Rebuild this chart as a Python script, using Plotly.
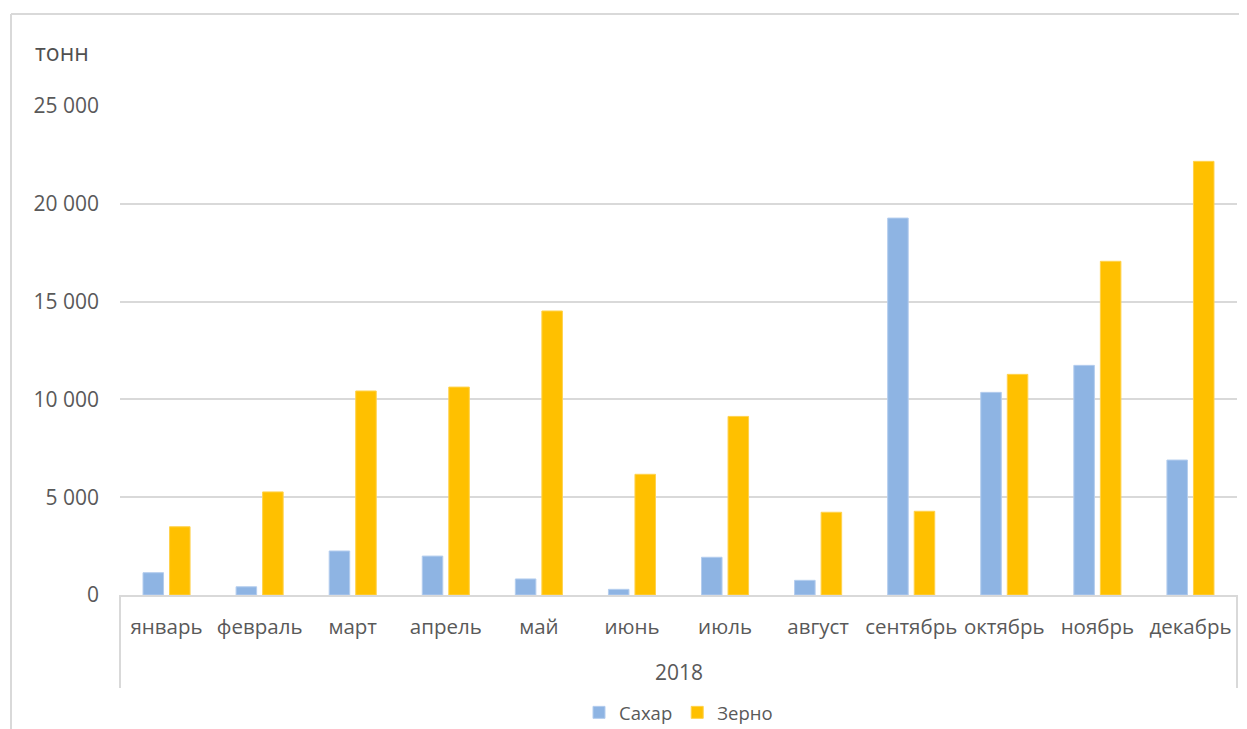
import plotly.graph_objects as go

months = ["январь", "февраль", "март", "апрель", "май", "июнь",
          "июль", "август", "сентябрь", "октябрь", "ноябрь", "декабрь"]
sugar = [1140, 420, 2250, 1990, 820, 290, 1930, 750, 19270, 10360, 11740, 6900]
grain = [3490, 5270, 10430, 10630, 14520, 6170, 9130, 4230, 4280, 11280, 17060, 22170]
y_ticks = [0, 5000, 10000, 15000, 20000, 25000]
y_tick_text = ["0", "5 000", "10 000", "15 000", "20 000", "25 000"]

TXT = "#595959"
GRID = "#D9D9D9"
FONT = "Open Sans"

fig = go.Figure()
fig.add_trace(go.Bar(name="Сахар", x=months, y=sugar,
                     marker=dict(color="#8EB4E3", line=dict(color="#B4CDEE", width=1))))
fig.add_trace(go.Bar(name="Зерно", x=months, y=grain,
                     marker=dict(color="#FFC000", line=dict(color="#FFD24D", width=1))))

fig.update_layout(
    width=1231, height=729,
    margin=dict(l=112, r=2, t=98, b=142),
    paper_bgcolor="white", plot_bgcolor="white",
    barmode="group", bargap=0.43, bargroupgap=0.226,
    font=dict(family=FONT, color=TXT, size=20),
    showlegend=True,
    legend=dict(orientation="h", x=0.5, xanchor="center", y=-0.241, yanchor="middle",
                font=dict(size=18.5, color=TXT), itemwidth=30, traceorder="normal"),
    xaxis=dict(showline=True, linecolor=GRID, linewidth=2, ticks="",
               tickfont=dict(size=20.5, color=TXT), ticklabelstandoff=12,
               showgrid=False, fixedrange=True),
    yaxis=dict(range=[0, 25000], tickvals=y_ticks, ticktext=y_tick_text,
               showgrid=True, gridcolor=GRID, gridwidth=2, zeroline=False,
               showline=False, ticks="", ticklabelstandoff=20,
               tickfont=dict(size=21, color=TXT), fixedrange=True),
    shapes=[
        dict(type="line", xref="paper", yref="paper", x0=0, x1=0, y0=0, y1=-0.19,
             line=dict(color=GRID, width=2)),
        dict(type="line", xref="paper", yref="paper", x0=1, x1=1, y0=0, y1=-0.19,
             line=dict(color=GRID, width=2)),
        dict(type="line", xref="paper", yref="paper", x0=-0.0976, x1=-0.0976, y0=1.188, y1=-0.3,
             line=dict(color=GRID, width=2)),
        dict(type="line", xref="paper", yref="paper", x0=-0.0976, x1=1.02, y0=1.188, y1=1.188,
             line=dict(color=GRID, width=2)),
    ],
    annotations=[
        dict(text="тонн", xref="paper", yref="paper", x=-0.078, y=1.110,
             xanchor="left", yanchor="middle", showarrow=False,
             font=dict(size=23, color="#505050")),
        dict(text="2018", xref="paper", yref="paper", x=0.5, y=(595 - 672) / 489,
             xanchor="center", yanchor="middle", showarrow=False,
             font=dict(size=21, color=TXT)),
    ],
)

fig.write_html("out.html")
